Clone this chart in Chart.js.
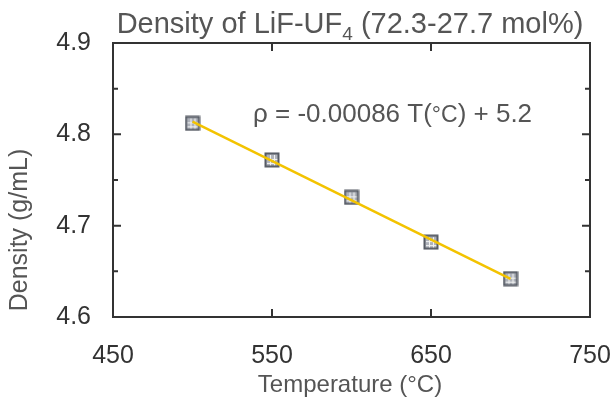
<!DOCTYPE html>
<html>
<head>
<meta charset="utf-8">
<script src="https://cdn.jsdelivr.net/npm/chart.js@4"></script>
<style>
  html, body { margin: 0; padding: 0; background: #fff; }
  #wrap { width: 615px; height: 400px; }
</style>
</head>
<body>
<div id="wrap"><canvas id="chart" width="615" height="400"></canvas></div>
<script>
// measured points
const temps = [500, 550, 600, 650, 700];
const density = [4.812, 4.772, 4.731, 4.682, 4.642];
// linear fit endpoints
const fitTemps = [500, 700];
const fitDensity = [4.8138, 4.6418];
const xTicks = [450, 550, 650, 750];
const yTicks = [4.6, 4.7, 4.8, 4.9];

const FONT = "'Liberation Sans', Arial, sans-serif";

// grid-like square marker
function makeMarker() {
  const c = document.createElement("canvas");
  c.width = 16;
  c.height = 16;
  const g = c.getContext("2d");
  g.fillStyle = "#aeb2ba";
  g.fillRect(1, 1, 14, 14);
  g.fillStyle = "#f2f2f2";
  g.fillRect(6, 3, 1, 11);
  g.fillRect(10, 3, 1, 11);
  g.fillRect(3, 7, 11, 1);
  g.fillRect(3, 11, 11, 1);
  g.strokeStyle = "#565b64";
  g.lineWidth = 2;
  g.strokeRect(1.5, 1.5, 13, 13);
  return c;
}

const frame = {
  id: "frame",
  afterDatasetsDraw(chart) {
    const { ctx, chartArea: a, scales } = chart;
    ctx.save();
    ctx.strokeStyle = "#333";
    ctx.lineWidth = 2;
    ctx.strokeRect(a.left, a.top, a.right - a.left, a.bottom - a.top);
    ctx.beginPath();
    scales.x.ticks.forEach((t) => {
      const px = scales.x.getPixelForValue(t.value);
      ctx.moveTo(px, a.bottom);
      ctx.lineTo(px, a.bottom - 8);
      ctx.moveTo(px, a.top);
      ctx.lineTo(px, a.top + 8);
    });
    scales.y.ticks.forEach((t) => {
      const py = scales.y.getPixelForValue(t.value);
      ctx.moveTo(a.left, py);
      ctx.lineTo(a.left + 8, py);
      ctx.moveTo(a.right, py);
      ctx.lineTo(a.right - 8, py);
      if (t.value + 0.05 < 4.9) {
        const pm = scales.y.getPixelForValue(t.value + 0.05);
        ctx.moveTo(a.left, pm);
        ctx.lineTo(a.left + 5, pm);
        ctx.moveTo(a.right, pm);
        ctx.lineTo(a.right - 5, pm);
      }
    });
    ctx.stroke();

    // title with subscript
    ctx.fillStyle = "#555";
    ctx.textBaseline = "alphabetic";
    const t1 = "Density of LiF-UF";
    const t2 = "4";
    const t3 = " (72.3-27.7 mol%)";
    ctx.font = "29px " + FONT;
    const w1 = ctx.measureText(t1).width;
    const w3 = ctx.measureText(t3).width;
    ctx.font = "19px " + FONT;
    const w2 = ctx.measureText(t2).width;
    const x = 350 - (w1 + w2 + w3) / 2;
    ctx.font = "29px " + FONT;
    ctx.fillText(t1, x, 33);
    ctx.font = "19px " + FONT;
    ctx.fillText(t2, x + w1, 40);
    ctx.font = "29px " + FONT;
    ctx.fillText(t3, x + w1 + w2, 33);

    // equation
    ctx.font = "26px " + FONT;
    let ex = 253;
    const e1 = "ρ = -0.00086 T(";
    ctx.fillText(e1, ex, 122);
    ex += ctx.measureText(e1).width;
    ctx.font = "23px " + FONT;
    ctx.fillText("°C", ex, 122);
    ex += ctx.measureText("°C").width;
    ctx.font = "26px " + FONT;
    ctx.fillText(") + 5.2", ex, 122);

    // axis titles
    ctx.font = "24px " + FONT;
    ctx.textAlign = "center";
    ctx.fillText("Temperature (°C)", 350, 392);
    ctx.font = "25px " + FONT;
    ctx.translate(27, 230);
    ctx.rotate(-Math.PI / 2);
    ctx.fillText("Density (g/mL)", 0, 0);
    ctx.restore();
  },
};

const marker = makeMarker();

new Chart(document.getElementById("chart").getContext("2d"), {
  type: "scatter",
  data: {
    datasets: [
      {
        label: "fit",
        data: fitTemps.map((t, i) => ({ x: t, y: fitDensity[i] })),
        showLine: true,
        borderColor: "#f3c300",
        borderWidth: 2.5,
        pointRadius: 0,
        order: 0,
      },
      {
        label: "data",
        data: temps.map((t, i) => ({ x: t, y: density[i] })),
        pointStyle: marker,
        pointRadius: 8,
        order: 1,
      },
    ],
  },
  options: {
    responsive: false,
    animation: false,
    layout: { padding: { top: 43, right: 25, left: 0, bottom: 0 } },
    plugins: {
      legend: { display: false },
      tooltip: { enabled: false },
    },
    scales: {
      x: {
        type: "linear",
        min: 450,
        max: 750,
        afterBuildTicks: (s) => { s.ticks = xTicks.map((v) => ({ value: v })); },
        ticks: {
          color: "#333",
          font: { family: FONT, size: 25 },
          padding: 24,
          maxRotation: 0,
        },
        grid: { display: false, drawTicks: false },
        border: { display: false },
        afterFit: (s) => {
          s.height = 83;
          s.paddingLeft = 0;
          s.paddingRight = 0;
        },
      },
      y: {
        min: 4.6,
        max: 4.9,
        afterBuildTicks: (s) => { s.ticks = yTicks.map((v) => ({ value: v })); },
        ticks: {
          color: "#333",
          font: { family: FONT, size: 25 },
          padding: 22,
          callback: (v) => v.toFixed(1),
        },
        grid: { display: false, drawTicks: false },
        border: { display: false },
        afterFit: (s) => {
          s.width = 113;
          s.paddingTop = 0;
          s.paddingBottom = 0;
        },
      },
    },
  },
  plugins: [frame],
});
</script>
</body>
</html>
